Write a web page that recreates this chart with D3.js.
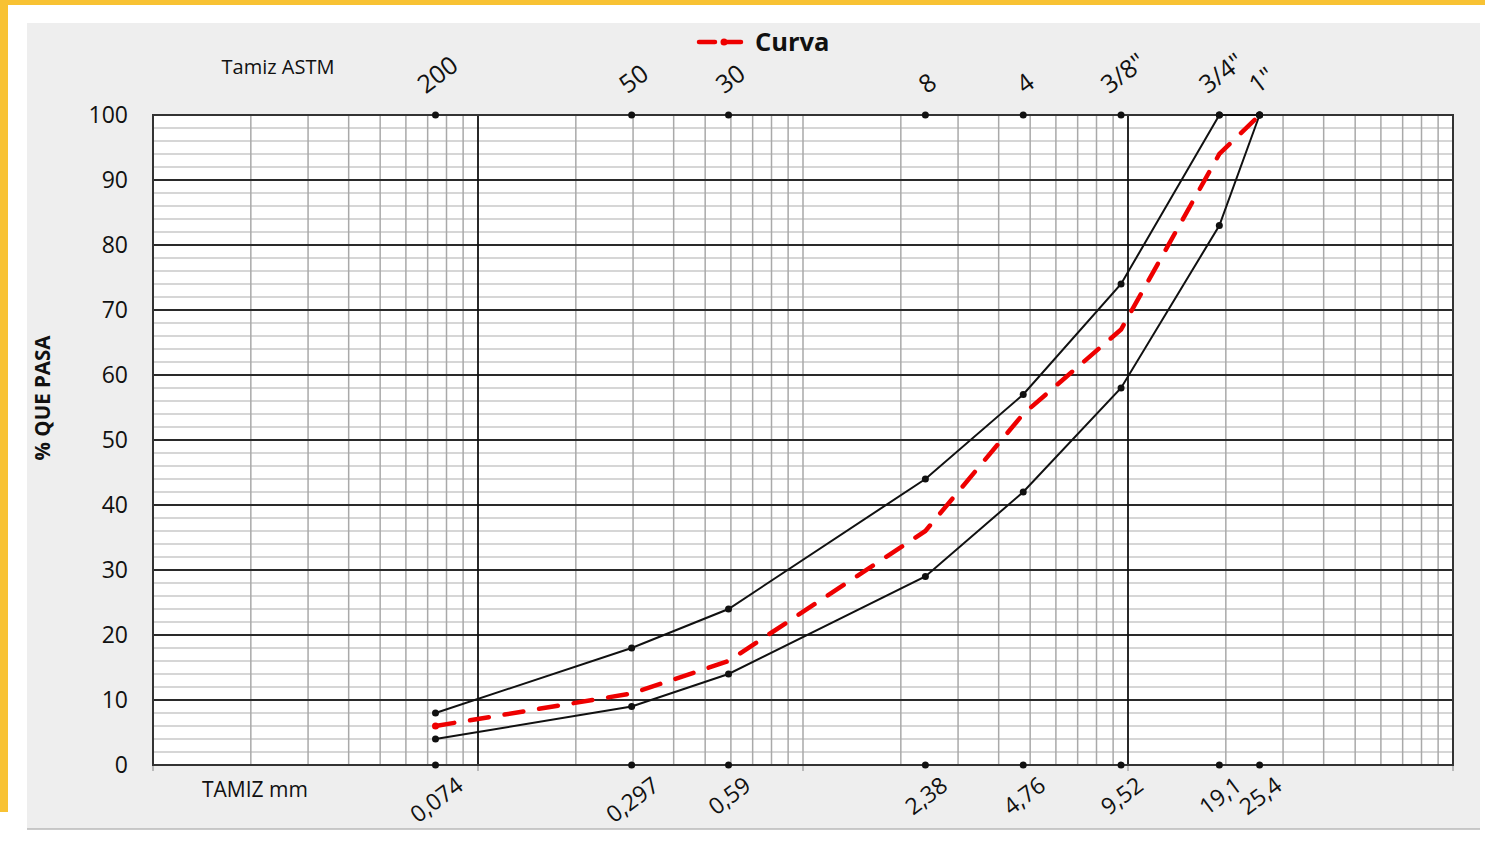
<!DOCTYPE html>
<html><head><meta charset="utf-8">
<script src="https://cdn.jsdelivr.net/npm/d3@7/dist/d3.min.js"></script>
<style>html,body{margin:0;padding:0;background:#fff;}svg{display:block;font-family:"Open Sans","Noto Sans",sans-serif;}</style>
</head><body>
<svg id="c" width="1485" height="848"></svg>
<script>
// ---- data ----
const sieveMM = [0.074, 0.297, 0.59, 2.38, 4.76, 9.52, 19.1, 25.4];
const sieveMMLabels = ["0,074", "0,297", "0,59", "2,38", "4,76", "9,52", "19,1", "25,4"];
const sieveASTM = ["200", "50", "30", "8", "4", "3/8\"", "3/4\"", "1\""];
const upperLimit = [8, 18, 24, 44, 57, 74, 100, 100];
const lowerLimit = [4, 9, 14, 29, 42, 58, 83, 100];
const curva = [6, 11, 16, 36, 54, 67, 94, 100];
const yTicks = [0, 10, 20, 30, 40, 50, 60, 70, 80, 90, 100];

const svg = d3.select("#c");
const L = 153, R = 1453, T = 115, B = 765;
const x = d3.scaleLog().domain([0.01, 100]).range([L, R]);
const y = d3.scaleLinear().domain([0, 100]).range([B, T]);

// backgrounds
svg.append("rect").attr("x",0).attr("y",0).attr("width",1485).attr("height",848).attr("fill","#fff");
svg.append("rect").attr("x",0).attr("y",0).attr("width",1485).attr("height",5).attr("fill","#f8c233");
svg.append("rect").attr("x",0).attr("y",0).attr("width",8).attr("height",812).attr("fill","#f8c233");
svg.append("rect").attr("x",27).attr("y",23).attr("width",1453).attr("height",806).attr("fill","#eeeeee");
svg.append("line").attr("x1",27).attr("x2",1480).attr("y1",829).attr("y2",829).attr("stroke","#b8b8b8").attr("stroke-width",1.5);
svg.append("rect").attr("x",L).attr("y",T).attr("width",R-L).attr("height",B-T).attr("fill","#fff");

// grid
const g = svg.append("g");
const minorY = d3.range(0, 101, 2).filter(v => v % 10 !== 0);
g.selectAll(".hm").data(minorY).join("line")
  .attr("x1",L).attr("x2",R).attr("y1",d=>y(d)).attr("y2",d=>y(d))
  .attr("stroke","#c9c9c9").attr("stroke-width",1.5);
const minorX = [];
[0.01,0.1,1,10].forEach(dec => { for (let k=2;k<=9;k++) minorX.push(dec*k); });
minorX.push(1);
g.selectAll(".vm").data(minorX).join("line")
  .attr("x1",d=>x(d)).attr("x2",d=>x(d)).attr("y1",T).attr("y2",B)
  .attr("stroke","#a9a9a9").attr("stroke-width",1.5);
g.selectAll(".hM").data(yTicks).join("line")
  .attr("x1",L).attr("x2",R).attr("y1",d=>y(d)).attr("y2",d=>y(d))
  .attr("stroke","#2a2a2a").attr("stroke-width",2);
g.selectAll(".vM").data([0.1,10]).join("line")
  .attr("x1",d=>x(d)).attr("x2",d=>x(d)).attr("y1",T).attr("y2",B)
  .attr("stroke","#111").attr("stroke-width",1.8);
// decade ticks below axis
g.selectAll(".tk").data([0.01,0.1,1,10,100]).join("line")
  .attr("x1",d=>x(d)).attr("x2",d=>x(d)).attr("y1",B).attr("y2",B+6)
  .attr("stroke","#a9a9a9").attr("stroke-width",1.5);
// border
svg.append("rect").attr("x",L).attr("y",T).attr("width",R-L).attr("height",B-T)
  .attr("fill","none").attr("stroke","#333").attr("stroke-width",2);

// y tick labels
svg.append("g").selectAll("text").data(yTicks).join("text")
  .attr("x",128).attr("y",d=>y(d)).attr("dy","0.35em").attr("text-anchor","end")
  .attr("font-size",23).attr("fill","#111").text(d=>d);

// series
const pts = vals => sieveMM.map((d,i)=>[x(d), y(vals[i])]);
const line = d3.line();
[upperLimit, lowerLimit].forEach(s => {
  svg.append("path").attr("d", line(pts(s))).attr("fill","none").attr("stroke","#111").attr("stroke-width",2);
  svg.append("g").selectAll("circle").data(pts(s)).join("circle")
    .attr("cx",d=>d[0]).attr("cy",d=>d[1]).attr("r",3.5).attr("fill","#111");
});
svg.append("path").attr("d", line(pts(curva))).attr("fill","none").attr("stroke","#ee0000")
  .attr("stroke-width",4.5).attr("stroke-dasharray","19,16").attr("stroke-linecap","round");
svg.append("circle").attr("cx",x(sieveMM[0])).attr("cy",y(curva[0])).attr("r",3.5).attr("fill","#ee0000");

// top and bottom sieve dots
svg.append("g").selectAll("circle").data(sieveMM).join("circle")
  .attr("cx",d=>x(d)).attr("cy",T).attr("r",3.5).attr("fill","#111");
svg.append("g").selectAll("circle").data(sieveMM).join("circle")
  .attr("cx",d=>x(d)).attr("cy",B).attr("r",3.5).attr("fill","#111");

// rotated labels
const ang = 37, rad = ang*Math.PI/180;
svg.append("g").selectAll("text").data(sieveASTM).join("text")
  .attr("font-size",25).attr("fill","#111").attr("text-anchor","middle").attr("dy","0.35em")
  .text(d=>d)
  .each(function(d,i){
    const w = this.getComputedTextLength();
    const h = w*Math.sin(rad) + 19*Math.cos(rad);
    const cx = x(sieveMM[i]) + 2, cy = 95 - h/2;
    d3.select(this).attr("x",cx).attr("y",cy).attr("transform",`rotate(${-ang},${cx},${cy})`);
  });
svg.append("g").selectAll("text").data(sieveMMLabels).join("text")
  .attr("font-size",23).attr("fill","#111").attr("text-anchor","middle").attr("dy","0.35em")
  .text(d=>d)
  .each(function(d,i){
    const w = this.getComputedTextLength();
    const h = w*Math.sin(rad) + 18*Math.cos(rad);
    const cx = x(sieveMM[i]) + 1, cy = 775 + h/2;
    d3.select(this).attr("x",cx).attr("y",cy).attr("transform",`rotate(${-ang},${cx},${cy})`);
  });

// axis titles
svg.append("text").attr("x",278).attr("y",67).attr("dy","0.35em").attr("text-anchor","middle")
  .attr("font-size",20).attr("fill","#111").text("Tamiz ASTM");
svg.append("text").attr("x",255).attr("y",790).attr("dy","0.35em").attr("text-anchor","middle")
  .attr("font-size",21).attr("fill","#111").text("TAMIZ mm");
svg.append("text").attr("transform","translate(43,398) rotate(-90)").attr("dy","0.35em")
  .attr("text-anchor","middle").attr("font-size",20.5).attr("font-weight","bold").attr("fill","#111").text("% QUE PASA");

// legend
svg.append("line").attr("x1",699).attr("x2",748).attr("y1",42).attr("y2",42)
  .attr("stroke","#ee0000").attr("stroke-width",4.5).attr("stroke-dasharray","16,10").attr("stroke-linecap","round");
svg.append("circle").attr("cx",724).attr("cy",42).attr("r",3.5).attr("fill","#ee0000");
svg.append("text").attr("x",755).attr("y",42).attr("dy","0.35em").attr("font-size",25.5)
  .attr("font-weight","bold").attr("fill","#111").text("Curva");
</script>
</body></html>
